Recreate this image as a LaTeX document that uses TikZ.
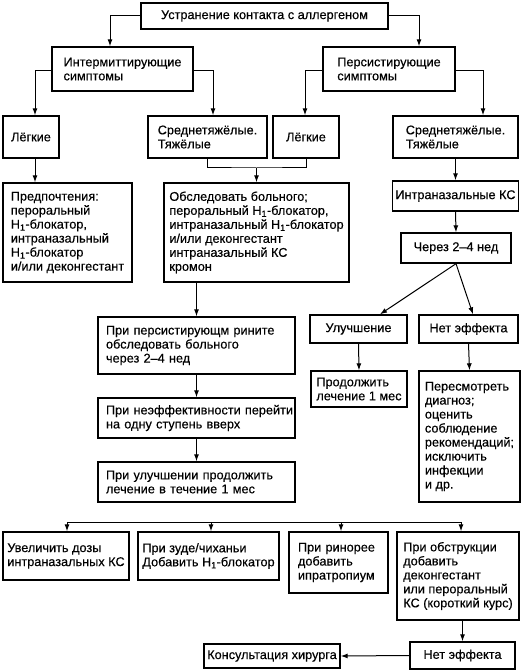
\documentclass[tikz,border=0pt]{standalone}
\usepackage{fontspec}
\setmainfont{Liberation Sans}[UprightFeatures={FakeBold=0.35}]
\usetikzlibrary{arrows.meta}
\begin{document}
\begin{tikzpicture}[x=1pt,y=-1pt,
  font=\fontsize{12.7}{14}\selectfont,
  box/.style={draw, line width=1.4pt, inner xsep=3pt, inner ysep=2pt, align=left},
  arr/.style={-{Latex[length=7pt,width=5pt]}, line width=1pt},
  ln/.style={line width=1pt}]
\useasboundingbox (0,0) rectangle (531,671);
% row 1
\node[box, align=center, minimum width=247pt, minimum height=26pt] (top) at (264.5,16) {Устранение контакта с аллергеном};
% row 2
\node[box, minimum width=141pt, minimum height=44pt] (intm) at (122.5,69) {Интермиттирующие\\симптомы};
\node[box, minimum width=132pt, minimum height=44pt] (pers) at (389,69) {Персистирующие\\симптомы};
% row 3
\node[box, align=center, minimum width=56pt, minimum height=42pt] (lg1) at (31,137) {Лёгкие};
\node[box, minimum width=119pt, minimum height=42pt] (sr1) at (207.5,137) {Среднетяжёлые.\\Тяжёлые};
\node[box, align=center, minimum width=66pt, minimum height=42pt] (lg2) at (306,137) {Лёгкие};
\node[box, minimum width=125pt, minimum height=42pt] (sr2) at (455.5,137) {Среднетяжёлые.\\Тяжёлые};
% row 4
\node[box, minimum width=129pt, minimum height=99pt] (pref) at (67.5,232.5) {Предпочтения:\\пероральный\\H\textsubscript{1}-блокатор,\\интраназальный\\H\textsubscript{1}-блокатор\\и/или деконгестант};
\node[box, minimum width=185pt, minimum height=99pt] (obsl) at (256.5,232.5) {Обследовать больного;\\пероральный H\textsubscript{1}-блокатор,\\интраназальный H\textsubscript{1}-блокатор\\и/или деконгестант\\интраназальный КС\\кромон};
\node[box, align=center, minimum width=125pt, minimum height=30pt] (ikc) at (455.5,196) {Интраназальные КС};
\node[box, align=center, minimum width=110pt, minimum height=30pt] (cher) at (456,248) {Через 2–4 нед};
% right branch
\node[box, align=center, minimum width=97pt, minimum height=28pt] (ul) at (358.5,329) {Улучшение};
\node[box, align=center, minimum width=99pt, minimum height=28pt] (ne1) at (468.5,329) {Нет эффекта};
\node[box, minimum width=96pt, minimum height=36pt] (prod) at (359,389) {Продолжить\\лечение 1 мес};
\node[box, minimum width=101pt, minimum height=131pt] (pere) at (469.5,436.5) {Пересмотреть\\диагноз;\\оценить\\соблюдение\\рекомендаций;\\исключить\\инфекции\\и др.};
% left column
\node[box, inner xsep=8pt, text width=181pt, minimum width=197pt, minimum height=57pt] (pp) at (196.5,345.5) {\mbox{При персистирующм рините}\\\mbox{обследовать больного}\\\mbox{через 2–4 нед}};
\node[box, inner xsep=8pt, text width=181pt, minimum width=197pt, minimum height=40pt] (pn) at (196.5,418) {\mbox{При неэффективности перейти}\\\mbox{на одну ступень вверх}};
\node[box, inner xsep=8pt, text width=181pt, minimum width=197pt, minimum height=40pt] (pu) at (196.5,482) {\mbox{При улучшении продолжить}\\\mbox{лечение в течение 1 мес}};
% bottom row
\node[box, minimum width=126pt, minimum height=48pt] (uv) at (66,556) {Увеличить дозы\\интраназальных КС};
\node[box, minimum width=141pt, minimum height=48pt] (zd) at (208.5,556) {При зуде/чиханьи\\Добавить H\textsubscript{1}-блокатор};
\node[box, inner xsep=9pt, text width=81pt, minimum width=99pt, minimum height=61pt] (rn) at (338.5,562.5) {\mbox{При ринорее}\\\mbox{добавить}\\\mbox{ипратропиум}};
\node[box, minimum width=122pt, minimum height=88pt] (ob) at (458,576) {При обструкции\\добавить\\деконгестант\\или пероральный\\КС (короткий курс)};
\node[box, align=center, minimum width=105pt, minimum height=27pt] (ne2) at (462.5,655.5) {Нет эффекта};
\node[box, align=center, minimum width=136pt, minimum height=24pt] (ks) at (272,656) {Консультация хирурга};
% connectors
\draw[arr] (top.west) -| ([xshift=-12.5pt]intm.north);
\draw[arr] (top.east) -| ([xshift=30pt]pers.north);
\draw[arr] ([yshift=-2pt]intm.west) -| ([xshift=4pt]lg1.north);
\draw[arr] ([yshift=-2pt]intm.east) -| ([xshift=5.5pt]sr1.north);
\draw[arr] ([yshift=-2pt]pers.west) -| ([xshift=-1pt]lg2.north);
\draw[arr] ([yshift=-2pt]pers.east) -| ([xshift=27.5pt]sr2.north);
\draw[arr] ([xshift=4pt]lg1.south) -- ([xshift=4pt]lg1.south |- pref.north);
\coordinate (jn) at (256.5,168);
\draw[ln] (sr1.south) |- (jn) -| (lg2.south);
\draw[arr] (jn) -- (obsl.north);
\draw[arr] (sr2.south) -- (ikc.north);
\draw[arr] (ikc.south) -- (cher.north);
\draw[arr] (cher.south) -- ([xshift=21.5pt]ul.north);
\draw[arr] (cher.south) -- ([xshift=4.5pt]ne1.north);
\draw[arr] (ul.south) -- (prod.north);
\draw[arr] (ne1.south) -- (pere.north);
\draw[arr] (pp.north |- obsl.south) -- (pp.north);
\draw[arr] (pp.south) -- (pn.north);
\draw[arr] (pn.south) -- (pu.north);
\coordinate (b1) at (67,522);
\coordinate (b2) at (211,522);
\coordinate (b3) at (341,522);
\coordinate (b4) at (461,522);
\draw[ln] (b1) -- (b4);
\draw[arr] (b1) -- (b1 |- uv.north);
\draw[arr] (b2) -- (b2 |- zd.north);
\draw[arr] (b3) -- (b3 |- rn.north);
\draw[arr] (b4) -- (b4 |- ob.north);
\draw[arr] (ne2.north |- ob.south) -- (ne2.north);
\draw[arr] (ne2.west) -- (ks.east);
\end{tikzpicture}
\end{document}
